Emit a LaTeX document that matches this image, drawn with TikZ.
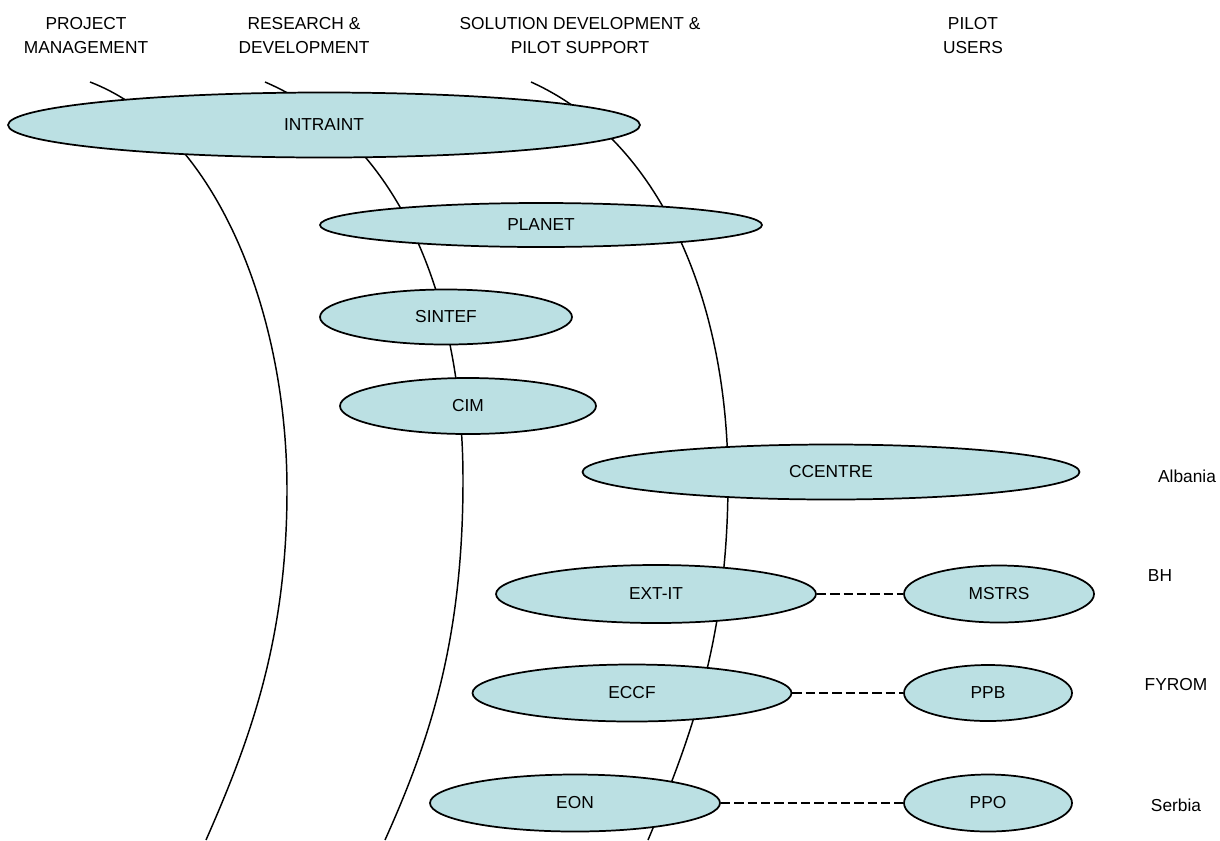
\documentclass[tikz,border=0pt]{standalone}
\usepackage{fontspec}
\setmainfont{Liberation Sans}
\usepackage{tikz}
\usetikzlibrary{shapes.geometric}
\usetikzlibrary{positioning}

\definecolor{orgfill}{RGB}{187,224,227}

\tikzset{
  org/.style={ellipse, draw=black, line width=1.3pt, fill=orgfill, inner sep=0pt, font=\fontsize{13}{15}\selectfont},
  lane/.style={line width=1.1pt, black},
  link/.style={line width=1.5pt, dash pattern=on 7pt off 3pt},
  head/.style={align=center, inner sep=0pt, font=\fontsize{13}{18}\selectfont},
  country/.style={inner sep=0pt, font=\fontsize{13}{15}\selectfont}
}

\begin{document}
\begin{tikzpicture}[x=0.75pt,y=0.75pt,yscale=-1,xscale=1]
\useasboundingbox (0,0) rectangle (1220,840);

%Curves: lanes behind the organisations
\draw [lane] (90,82) .. controls (215,130) and (287,310) .. (287,490) .. controls (287,640) and (250,740) .. (206,840);
\draw [lane] (265,82) .. controls (400,140) and (463,300) .. (463,480) .. controls (463,640) and (430,740) .. (385,840);
\draw [lane] (531,82) .. controls (660,140) and (728,300) .. (728,480) .. controls (728,640) and (690,740) .. (648,840);

%Shape: Ellipse
\node [org, minimum width=474pt, minimum height=48.75pt] (INTRAINT) at (324,125) {INTRAINT};
\node [org, minimum width=331.5pt, minimum height=33pt] (PLANET) at (541,225) {PLANET};
\node [org, minimum width=189pt, minimum height=41.25pt] (SINTEF) at (446,317) {SINTEF};
\node [org, minimum width=192pt, minimum height=42pt] (CIM) at (468,406) {CIM};
\node [org, minimum width=372.75pt, minimum height=41.25pt] (CCENTRE) at (831,472) {CCENTRE};
\node [org, minimum width=240pt, minimum height=43.5pt] (EXTIT) at (656,594) {EXT-IT};
\node [org, minimum width=142.5pt, minimum height=42.75pt] (MSTRS) at (999,594) {MSTRS};
\node [org, minimum width=239.25pt, minimum height=42.75pt] (ECCF) at (632,693) {ECCF};
\node [org, minimum width=126pt, minimum height=42pt] (PPB) at (988,693) {PPB};
\node [org, minimum width=217.5pt, minimum height=42.75pt] (EON) at (575,803) {EON};
\node [org, minimum width=126pt, minimum height=42.75pt] (PPO) at (988,803) {PPO};

%Dashed links to pilot users
\draw [link] (EXTIT) -- (MSTRS);
\draw [link] (ECCF) -- (PPB);
\draw [link, line width=1pt] (EON) -- (PPO);

% Text Node
\node [head] (pm) at (86,36) {PROJECT\\MANAGEMENT};
\node [head] (rd) at (304,36) {RESEARCH \&\\DEVELOPMENT};
\node [head] (sd) at (580,36) {SOLUTION DEVELOPMENT \&\\PILOT SUPPORT};
\node [head] (pu) at (973,36) {PILOT\\USERS};

% Text Node
\node [country] (albania) at (1187,476) {Albania};
\node [country] (bh) at (1160,576) {BH};
\node [country] (fyrom) at (1176,685) {FYROM};
\node [country] (serbia) at (1176,805) {Serbia};
\end{tikzpicture}
\end{document}
